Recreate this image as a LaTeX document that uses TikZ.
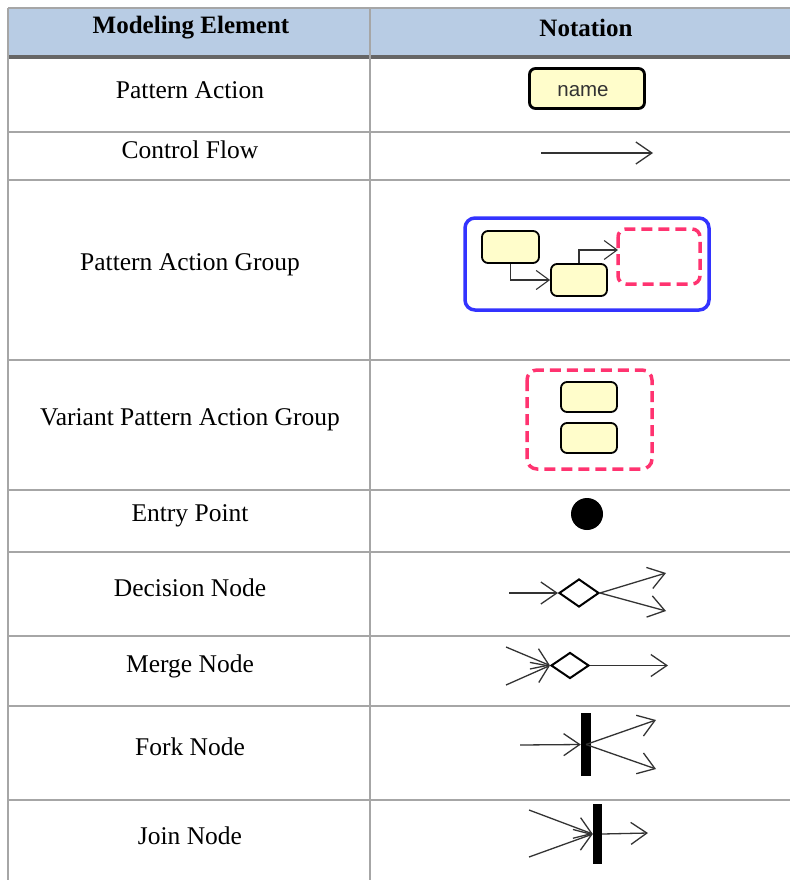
\documentclass[tikz,border=0pt]{standalone}
\usepackage{fontspec}
\setmainfont{Liberation Serif}
\newfontfamily\namefont{Liberation Sans}
\usetikzlibrary{arrows.meta,shapes.geometric}
\definecolor{hdr}{HTML}{B8CCE4}
\definecolor{grid}{HTML}{A6A6A6}
\definecolor{pafill}{HTML}{FFFDCB}
\definecolor{grpblue}{HTML}{3333FF}
\definecolor{varpink}{HTML}{FF3370}
\definecolor{lin}{HTML}{333333}
\begin{document}
\begin{tikzpicture}[x=1pt,y=-1pt,
  gridline/.style={draw=grid,line width=1.3pt},
  lbl/.style={font=\fontsize{25.5}{28}\selectfont,inner sep=0pt},
  hlbl/.style={font=\fontsize{25}{28}\selectfont\bfseries,inner sep=0pt},
  pabox/.style={draw=black,fill=pafill,rounded corners=6pt,line width=2.2pt,inner sep=0pt},
  arr/.style={draw=lin,line width=1.3pt,-{Straight Barb[length=16pt,width=22pt,line width=1.3pt]}},
  sarr/.style={draw=lin,line width=1.1pt,-{Straight Barb[length=13pt,width=19pt,line width=1.1pt]}},
  varbox/.style={draw=varpink,line width=3.5pt,dash pattern=on 11pt off 6pt},
  dia/.style={diamond,draw=black,line width=2pt,inner sep=0pt,minimum width=40pt,minimum height=28pt},
  bar/.style={rectangle,fill=black,inner sep=0pt,minimum width=10pt},
]
\useasboundingbox (0,0) rectangle (790,880);
% header
\fill[hdr] (8,8) rectangle (790,57);
\draw[gridline] (8,8) -- (790,8);
\draw[draw=black!60,line width=4pt] (8,57) -- (790,57);
% grid
\draw[gridline] (8,8) -- (8,880);
\draw[gridline] (370,8) -- (370,880);
\foreach \yy in {132,180,360,490,552,636,706,800}{\draw[gridline] (8,\yy) -- (790,\yy);}
% header text
\node[hlbl] (h1) at (191,28) {Modeling Element};
\node[hlbl] (h2) at (586,28) {Notation};
% labels
\node[lbl] (l1) at (190,90) {Pattern Action};
\node[lbl] (l2) at (190,150) {Control Flow};
\node[lbl] (l3) at (190,265) {Pattern Action Group};
\node[lbl] (l4) at (190,420) {Variant Pattern Action Group};
\node[lbl] (l5) at (190,516) {Entry Point};
\node[lbl] (l6) at (190,588) {Decision Node};
\node[lbl] (l7) at (190,666) {Merge Node};
\node[lbl] (l8) at (190,747) {Fork Node};
\node[lbl] (l9) at (190,836) {Join Node};
% Pattern action
\node[pabox,line width=2.8pt,minimum width=115pt,minimum height=40pt] (pa) at (587,88.5) {};
\node[font=\namefont\fontsize{20.5}{22}\selectfont,text=lin,inner sep=0pt] (pan) at (583,91.5) {name};
% Control flow
\coordinate (cf1) at (541,153);
\coordinate (cf2) at (653,153);
\draw[arr] (cf1) -- (cf2);
% Pattern action group
\draw[draw=grpblue,line width=3.5pt,rounded corners=10pt] (465,218) rectangle (709,310);
\node[pabox,minimum width=57pt,minimum height=32pt,line width=1.8pt] (g1) at (510.5,247) {};
\node[pabox,minimum width=56pt,minimum height=32pt,line width=1.8pt] (g2) at (579,280) {};
\draw[varbox,rounded corners=8pt] (618,229) rectangle (700,284);
\coordinate (g3w) at (618,250);
\draw[sarr] (g1.south) |- (g2.west);
\draw[sarr] (g2.north) |- (g3w);
% Variant group
\draw[varbox,rounded corners=10pt] (527,370) rectangle (652,469);
\node[pabox,minimum width=56pt,minimum height=30pt,line width=1.8pt] (v1) at (589,397) {};
\node[pabox,minimum width=56pt,minimum height=30pt,line width=1.8pt] (v2) at (589,438) {};
% Entry point
\node[circle,fill=black,inner sep=0pt,minimum size=32pt] (ep) at (587,514) {};
% Decision
\node[dia] (dn) at (579,593) {};
\coordinate (dnin) at (509,593);
\coordinate (dno1) at (666,573);
\coordinate (dno2) at (666,611);
\draw[arr] (dnin) -- (dn.west);
\draw[arr] (dn.east) -- (dno1);
\draw[arr] (dn.east) -- (dno2);
% Merge
\node[dia,minimum width=38pt,minimum height=26pt] (mn) at (570,665.5) {};
\coordinate (mni1) at (506,647);
\coordinate (mni2) at (506,685);
\coordinate (mno) at (668,665.5);
\draw[arr] (mni1) -- (mn.west);
\draw[arr] (mni2) -- (mn.west);
\draw[arr] (mn.east) -- (mno);
% Fork
\node[bar,minimum height=63pt] (fk) at (586,744.5) {};
\coordinate (fki) at (520,745);
\coordinate (fko1) at (656,720);
\coordinate (fko2) at (656,769);
\draw[arr] (fki) -- (fk.west);
\draw[arr] (fk.center) -- (fko1);
\draw[arr] (fk.center) -- (fko2);
% Join
\node[bar,minimum width=9pt,minimum height=60pt] (jn) at (597.5,834) {};
\coordinate (jni1) at (529,810);
\coordinate (jni2) at (529,857);
\coordinate (jno) at (648,833);
\draw[arr] (jni1) -- (jn.west);
\draw[arr] (jni2) -- (jn.west);
\draw[arr] (jn.east) -- (jno);
\end{tikzpicture}
\end{document}
